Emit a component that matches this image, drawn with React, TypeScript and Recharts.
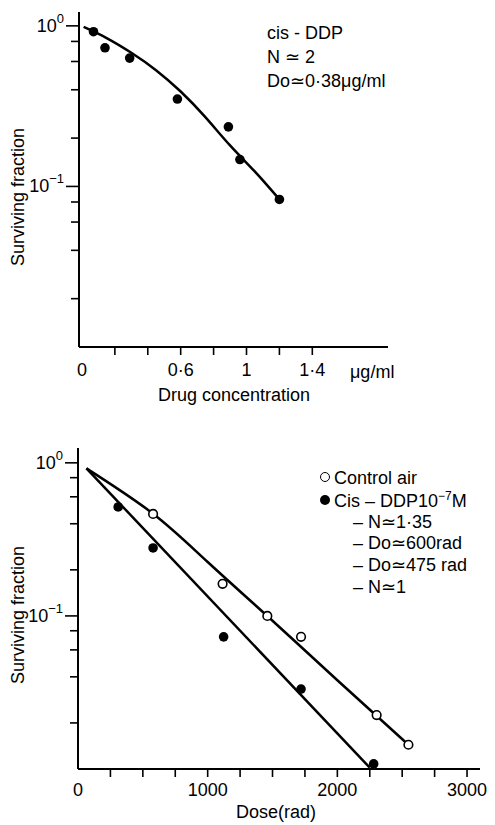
import React from "react";
import { ComposedChart, XAxis, YAxis, Line, Scatter } from "recharts";

const FONT = '"Liberation Sans", Arial, Helvetica, sans-serif';

// top panel: cis-DDP alone
const drugConc = [0.07, 0.14, 0.29, 0.58, 0.89, 0.96, 1.2];
const drugSurv = [0.92, 0.73, 0.63, 0.35, 0.235, 0.147, 0.083];
const drugFitConc = [0.01, 0.15, 0.3, 0.45, 0.6, 0.75, 0.9, 1.05, 1.2];
const drugFitSurv = [0.985, 0.84, 0.68, 0.53, 0.39, 0.27, 0.18, 0.124, 0.083];

// bottom panel: dose response
const airDose = [579, 1115, 1460, 1720, 2303, 2548];
const airSurv = [0.464, 0.162, 0.1, 0.073, 0.0225, 0.0144];
const cisDose = [310, 579, 1123, 1720, 2280];
const cisSurv = [0.515, 0.278, 0.073, 0.0333, 0.0108];
const airFitDose = [65, 579, 1000, 1500, 2000, 2548];
const airFitSurv = [0.92, 0.465, 0.225, 0.093, 0.038, 0.0144];
const cisFitDose = [65, 2250];
const cisFitSurv = [0.92, 0.0102];

const logTicks = [0.02, 0.04, 0.06, 0.08, 0.1, 0.2, 0.4, 0.6, 0.8, 1];
const logExponents: Record<string, string> = { "1": "0", "0.1": "\u22121" };
const drugTicks = [0, 0.2, 0.4, 0.6, 0.8, 1, 1.2, 1.4];
const drugTickLabels: Record<string, string> = { "0": "0", "0.6": "0·6", "1": "1", "1.4": "1·4" };
const doseTicks = [0, 250, 500, 750, 1000, 1250, 1500, 1750, 2000, 2250, 2500, 2750, 3000];
const doseTickLabels: Record<string, string> = { "0": "0", "1000": "1000", "2000": "2000", "3000": "3000" };

const zip = (xs: number[], ys: number[]) => xs.map((x, i) => ({ x, y: ys[i] }));

function LogTick(props: any) {
  const { x, y, payload } = props;
  const exp = logExponents[String(payload.value)];
  const major = exp !== undefined;
  return (
    <g>
      <line x1={x - (major ? 13 : 8)} x2={x} y1={y} y2={y} stroke="#000" strokeWidth={1.6} />
      {major && (
        <text x={x - 15} y={y} dy={6} textAnchor="end" fontSize={18} fontFamily={FONT} fill="#000">
          10
          <tspan dy={-9} fontSize={13}>
            {exp}
          </tspan>
        </text>
      )}
    </g>
  );
}

const makeXTick = (labels: Record<string, string>, dy: number) => (props: any) => {
  const { x, y, payload } = props;
  const label = labels[String(payload.value)];
  return (
    <g>
      {payload.value !== 0 && <line x1={x} x2={x} y1={y} y2={y + 8} stroke="#000" strokeWidth={1.6} />}
      {label && (
        <text x={x} y={y + dy} dy={6} textAnchor="middle" fontSize={18} fontFamily={FONT} fill="#000">
          {label}
        </text>
      )}
    </g>
  );
};

const DrugTick = makeXTick(drugTickLabels, 23);
const DoseTick = makeXTick(doseTickLabels, 21);

const filledDot = (p: any) => <circle cx={p.cx} cy={p.cy} r={4.8} fill="#000" />;
const openDot = (p: any) => <circle cx={p.cx} cy={p.cy} r={4.3} fill="#fff" stroke="#000" strokeWidth={1.6} />;

const txt = (left: number, cy: number, content: React.ReactNode, size = 18) => (
  <div
    style={{
      position: "absolute",
      left,
      top: cy,
      transform: "translateY(-50%)",
      fontFamily: FONT,
      fontSize: size,
      whiteSpace: "nowrap",
      lineHeight: 1,
      color: "#000",
    }}
  >
    {content}
  </div>
);

const centered = (cx: number, cy: number, content: string, rotate = 0, size = 18) => (
  <div
    style={{
      position: "absolute",
      left: cx,
      top: cy,
      transform: `translate(-50%, -50%) rotate(${rotate}deg)`,
      fontFamily: FONT,
      fontSize: size,
      whiteSpace: "nowrap",
      lineHeight: 1,
      color: "#000",
    }}
  >
    {content}
  </div>
);

const marker = (filled: boolean) => (
  <span
    style={{
      display: "inline-block",
      width: filled ? 10 : 8,
      height: filled ? 10 : 8,
      borderRadius: "50%",
      background: filled ? "#000" : "#fff",
      border: filled ? "none" : "1.5px solid #000",
      marginRight: 4,
      verticalAlign: "middle",
      position: "relative",
      top: -2,
    }}
  />
);

const axisLine = { stroke: "#000", strokeWidth: 2 };

export default function App() {
  return (
    <div style={{ position: "absolute", left: 0, top: 0, width: 495, height: 825, background: "#fff", overflow: "hidden" }}>
      <div style={{ position: "absolute", left: 0, top: 0 }}>
        <ComposedChart width={495} height={420} margin={{ top: 12, left: 0, right: 107, bottom: 0 }}>
          <XAxis
            type="number"
            dataKey="x"
            domain={[-0.018, 1.86]}
            allowDataOverflow
            ticks={drugTicks}
            interval={0}
            height={73}
            tickSize={0}
            tickMargin={0}
            tickLine={false}
            axisLine={axisLine}
            tick={DrugTick}
          />
          <YAxis
            type="number"
            dataKey="y"
            scale="log"
            domain={[0.01, 1.22]}
            allowDataOverflow
            ticks={logTicks}
            interval={0}
            width={79}
            tickSize={0}
            tickMargin={0}
            tickLine={false}
            axisLine={axisLine}
            tick={LogTick}
          />
          <Line
            data={zip(drugFitConc, drugFitSurv)}
            dataKey="y"
            type="natural"
            stroke="#000"
            strokeWidth={2.5}
            dot={false}
            isAnimationActive={false}
          />
          <Scatter data={zip(drugConc, drugSurv)} dataKey="y" shape={filledDot} isAnimationActive={false} />
        </ComposedChart>
      </div>

      <div style={{ position: "absolute", left: 0, top: 420 }}>
        <ComposedChart width={495} height={405} margin={{ top: 28, left: 0, right: 15, bottom: 0 }}>
          <XAxis
            type="number"
            dataKey="x"
            domain={[0, 3100]}
            allowDataOverflow
            ticks={doseTicks}
            interval={0}
            height={56}
            tickSize={0}
            tickMargin={0}
            tickLine={false}
            axisLine={axisLine}
            tick={DoseTick}
          />
          <YAxis
            type="number"
            dataKey="y"
            scale="log"
            domain={[0.01, 1.25]}
            allowDataOverflow
            ticks={logTicks}
            interval={0}
            width={78}
            tickSize={0}
            tickMargin={0}
            tickLine={false}
            axisLine={axisLine}
            tick={LogTick}
          />
          <Line
            data={zip(airFitDose, airFitSurv)}
            dataKey="y"
            type="natural"
            stroke="#000"
            strokeWidth={2.5}
            dot={false}
            isAnimationActive={false}
          />
          <Line
            data={zip(cisFitDose, cisFitSurv)}
            dataKey="y"
            type="linear"
            stroke="#000"
            strokeWidth={2.5}
            dot={false}
            isAnimationActive={false}
          />
          <Scatter data={zip(cisDose, cisSurv)} dataKey="y" shape={filledDot} isAnimationActive={false} />
          <Scatter data={zip(airDose, airSurv)} dataKey="y" shape={openDot} isAnimationActive={false} />
        </ComposedChart>
      </div>

      {/* top panel texts */}
      {centered(18, 197, "Surviving fraction", -90)}
      {centered(234, 395, "Drug concentration")}
      {txt(350, 372, "μg/ml")}
      {txt(267, 33, "cis - DDP")}
      {txt(267, 57, "N ≃ 2")}
      {txt(267, 81, "Do≃0·38μg/ml")}

      {/* bottom panel texts */}
      {centered(18, 615, "Surviving fraction", -90)}
      {centered(276, 812, "Dose(rad)")}
      {txt(320, 478, <>{marker(false)}Control air</>)}
      {txt(320, 500, <>{marker(true)}Cis – DDP10<sup style={{ fontSize: 12 }}>−7</sup>M</>)}
      {txt(353, 522, "– N≃1·35")}
      {txt(353, 543, "– Do≃600rad")}
      {txt(353, 565, "– Do≃475 rad")}
      {txt(353, 587, "– N≃1")}
    </div>
  );
}
